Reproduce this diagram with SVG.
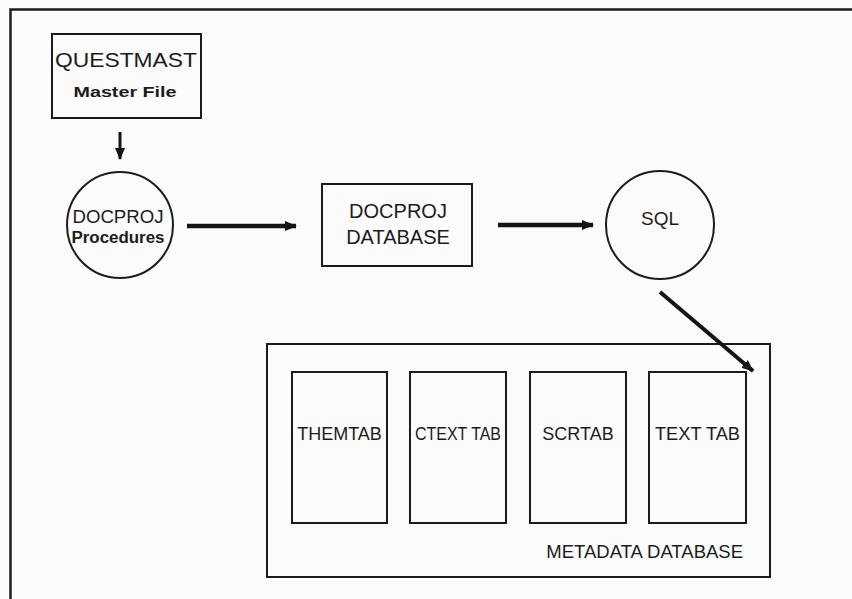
<svg xmlns="http://www.w3.org/2000/svg" width="852" height="599" viewBox="0 0 852 599">
<style>
.box{fill:none;stroke:#1c1c1c;stroke-width:2}
.frame{fill:none;stroke:#1c1c1c;stroke-width:2.5}
.t{font-family:"Liberation Sans",Arial,sans-serif;fill:#1c1c1c;text-anchor:middle}
.b{font-weight:bold}
.conn{stroke:#141414;fill:none}
</style>
<defs>
<marker id="ah" markerUnits="userSpaceOnUse" markerWidth="12" markerHeight="12" viewBox="0 0 12 12" refX="11" refY="6" orient="auto">
<path d="M0,1 L12,6 L0,11 Z" fill="#141414"/>
</marker>
</defs>
<rect width="852" height="599" fill="#fbfbfb"/>
<path class="frame" d="M10.5,599 V9.5 H852"/>
<g id="questmast">
<rect class="box" x="52" y="34" width="149" height="84"/>
<text class="t" x="126" y="67" font-size="21" textLength="142" lengthAdjust="spacingAndGlyphs">QUESTMAST</text>
<text class="t b" x="125" y="97" font-size="15" textLength="103" lengthAdjust="spacingAndGlyphs">Master File</text>
</g>
<g id="docproj-procedures">
<circle class="box" cx="120" cy="225" r="53"/>
<text class="t" x="118" y="223" font-size="18" textLength="91" lengthAdjust="spacingAndGlyphs">DOCPROJ</text>
<text class="t b" x="118" y="243" font-size="16" textLength="93" lengthAdjust="spacingAndGlyphs">Procedures</text>
</g>
<g id="docproj-database">
<rect class="box" x="322" y="184" width="150" height="82"/>
<text class="t" x="398" y="218" font-size="20">DOCPROJ</text>
<text class="t" x="398" y="244" font-size="20">DATABASE</text>
</g>
<g id="sql">
<circle class="box" cx="660" cy="225" r="54"/>
<text class="t" x="660" y="225" font-size="19">SQL</text>
</g>
<g id="metadata-database">
<rect class="box" x="267" y="344" width="503" height="233"/>
<text class="t" x="743" y="558" font-size="18.5" style="text-anchor:end">METADATA DATABASE</text>
</g>
<g id="themtab">
<rect class="box" x="292" y="372" width="95" height="151"/>
<text class="t" x="339.5" y="440" font-size="18">THEMTAB</text>
</g>
<g id="ctexttab">
<rect class="box" x="410" y="372" width="96" height="151"/>
<text class="t" x="458" y="440" font-size="18" textLength="86" lengthAdjust="spacingAndGlyphs">CTEXT TAB</text>
</g>
<g id="scrtab">
<rect class="box" x="530" y="372" width="96" height="151"/>
<text class="t" x="578" y="440" font-size="18">SCRTAB</text>
</g>
<g id="texttab">
<rect class="box" x="649" y="372" width="97" height="151"/>
<text class="t" x="697.5" y="440" font-size="18" textLength="85" lengthAdjust="spacingAndGlyphs">TEXT TAB</text>
</g>
<g id="connectors">
<line class="conn" x1="120" y1="132" x2="120" y2="159" stroke-width="3" marker-end="url(#ah)"/>
<line class="conn" x1="187" y1="226" x2="296" y2="226" stroke-width="4.5" marker-end="url(#ah)"/>
<line class="conn" x1="498" y1="225" x2="593" y2="225" stroke-width="4.5" marker-end="url(#ah)"/>
<line class="conn" x1="660" y1="292" x2="753" y2="371" stroke-width="4" marker-end="url(#ah)"/>
</g>
</svg>
